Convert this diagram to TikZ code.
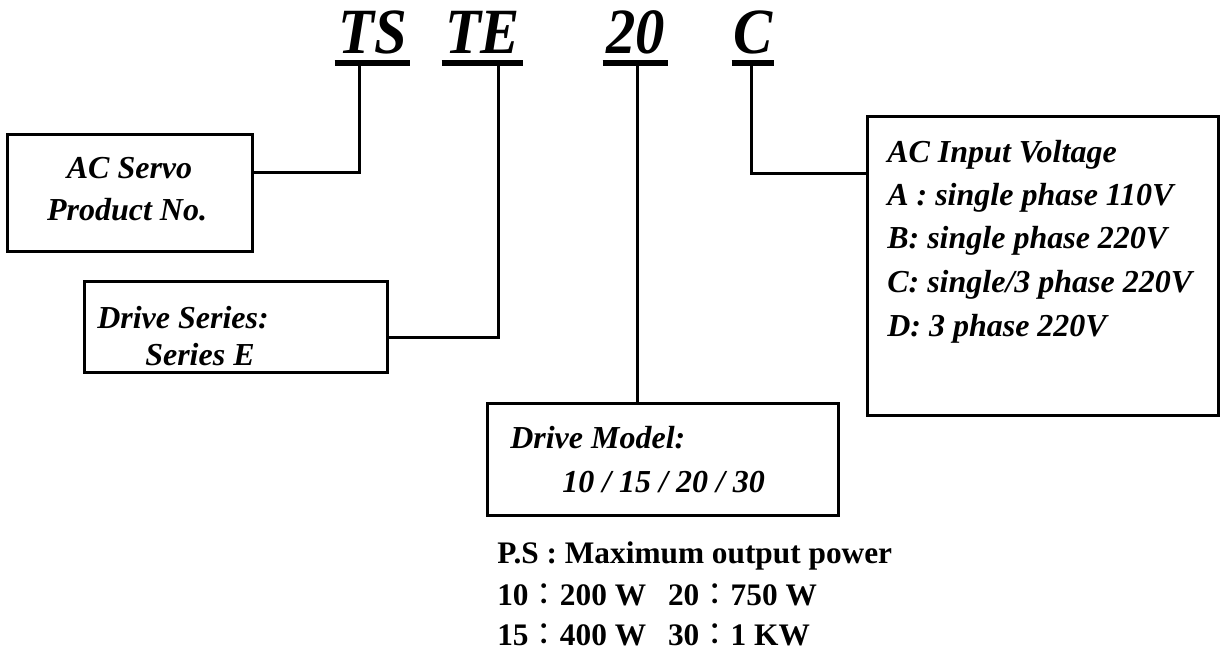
\documentclass[tikz,border=0pt]{standalone}
\usepackage{fontspec}
\setmainfont{Liberation Serif}
\newfontfamily\cjk{Noto Sans CJK TC}
\usetikzlibrary{positioning}
\newdimen\pxu \pxu=0.75pt
\newcommand{\tallcode}[1]{\scalebox{1}[1.1]{#1}}
\newcommand{\wcolon}{{\cjk\mdseries ：}}

\tikzset{
  code/.style={font=\fontsize{44}{44}\selectfont\bfseries\itshape, inner sep=0pt, text depth=10\pxu, anchor=base},
  uline/.style={line width=6\pxu},
  box/.style={draw, line width=3\pxu, inner sep=0pt},
  lbl/.style={font=\fontsize{24}{24}\selectfont\bfseries\itshape, inner sep=0pt, anchor=base west},
  note/.style={font=\fontsize{23.5}{23.5}\selectfont\bfseries, inner sep=0pt, anchor=base west},
  link/.style={line width=3\pxu}
}

\begin{document}
\begin{tikzpicture}[x=0.75pt,y=-0.75pt]
\useasboundingbox (0,0) rectangle (1223,650);
% part number
\node[code, minimum width=75\pxu] (ts) at (372.5,53) {\tallcode{TS}};
\node[code, minimum width=81\pxu] (te) at (482.5,53) {\tallcode{TE}};
\node[code, minimum width=65\pxu] (tw) at (635.5,53) {\tallcode{20}};
\node[code, minimum width=42\pxu] (c) at (753,53) {\tallcode{C}};
\foreach \n in {ts,te,tw,c}
  \draw[uline] (\n.south west) -- (\n.south east);
\coordinate (tap1) at ([xshift=-13.5\pxu]ts.south);
\coordinate (tap2) at ([xshift=15.5\pxu]te.south);
\coordinate (tap3) at ([xshift=1.5\pxu]tw.south);
\coordinate (tap4) at ([xshift=-2\pxu]c.south);

% boxes
\node[box, minimum width=245\pxu, minimum height=117\pxu] (servo) at (129.5,192.5) {};
\node[box, minimum width=303\pxu, minimum height=91\pxu] (series) at (235.5,326.5) {};
\node[box, minimum width=351\pxu, minimum height=112\pxu] (model) at (662.5,459) {};
\node[box, minimum width=351\pxu, minimum height=299\pxu] (ac) at (1042.5,265.5) {};

\node[lbl, anchor=base] (servo1) at (129.5,178) {AC Servo};
\node[lbl, anchor=base] (servo2) at (127,220) {Product No.};
\node[lbl] (series1) at (97,328) {Drive Series:};
\node[lbl] (series2) at (145,365) {Series E};
\node[lbl] (model1) at (510,448) {Drive Model:};
\node[lbl] (model2) at (562,492) {10 / 15 / 20 / 30};
\node[lbl] (ac0) at (887,162) {AC Input Voltage};
\node[lbl] (ac1) at (887,205) {A : single phase 110V};
\node[lbl] (ac2) at (887,248) {B: single phase 220V};
\node[lbl] (ac3) at (887,292) {C: single/3 phase 220V};
\node[lbl] (ac4) at (887,336) {D: 3 phase 220V};

% connectors
\draw[link] (tap1) |- ([yshift=20.5\pxu]servo.east);
\draw[link] (tap2) |- ([yshift=-10.5\pxu]series.east);
\draw[link] (tap3) -- (tap3 |- model.north);
\draw[link] (tap4) |- ([yshift=92.5\pxu]ac.west);

% power note
\node[note] (ps0) at (497,563) {P.S : Maximum output power};
\node[note] (ps1) at (497,605) {10\wcolon200 W\hspace{0.7em}20\wcolon750 W};
\node[note] (ps2) at (497,645) {15\wcolon400 W\hspace{0.7em}30\wcolon1 KW};
\end{tikzpicture}
\end{document}
